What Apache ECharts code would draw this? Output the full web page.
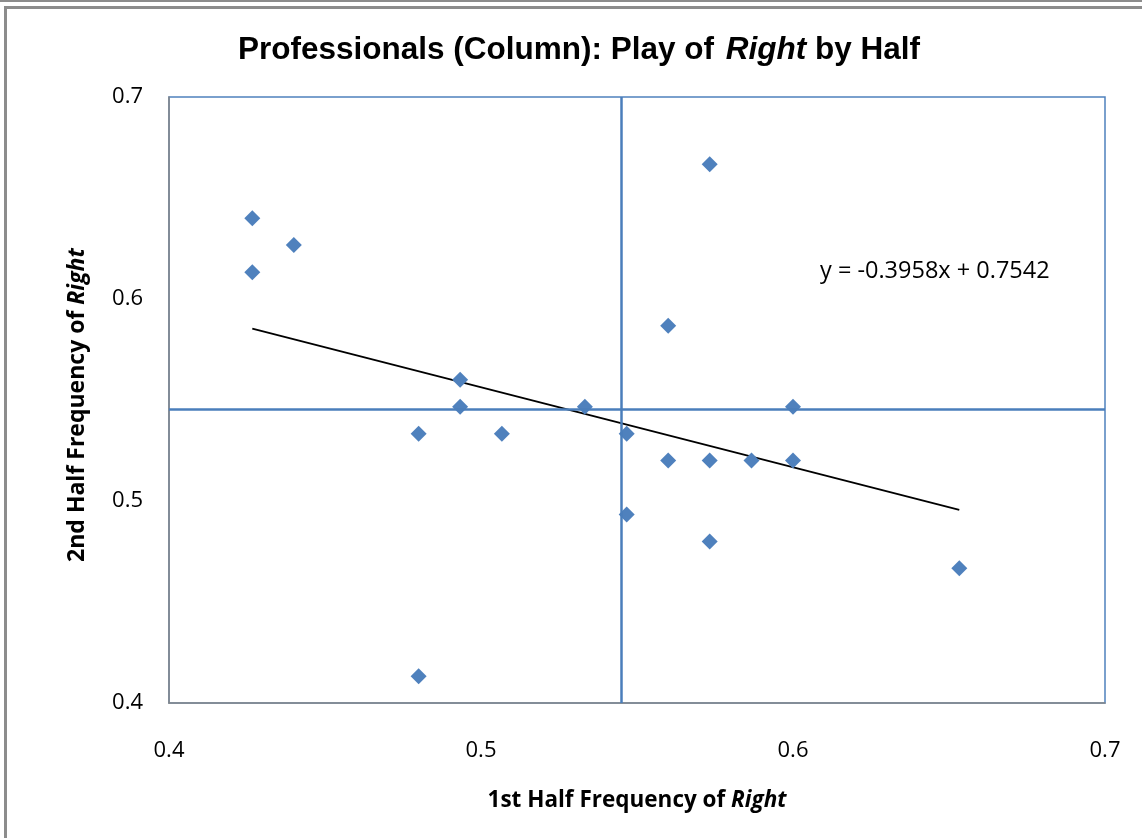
<!DOCTYPE html>
<html>
<head>
<meta charset="utf-8">
<script src="https://cdn.jsdelivr.net/npm/echarts@6/dist/echarts.min.js"></script>
<style>
html,body{margin:0;padding:0;background:#fff;}
#c{width:1142px;height:838px;}
</style>
</head>
<body>
<div id="c"></div>
<script>
// 1st half frequency of Right (x) and 2nd half frequency of Right (y)
var firstHalf  = [0.4267, 0.4267, 0.44, 0.4933, 0.4933, 0.48, 0.5067, 0.5333, 0.5467, 0.5467,
                  0.56, 0.56, 0.5733, 0.5733, 0.5733, 0.5867, 0.6, 0.6, 0.6533, 0.48];
var secondHalf = [0.64, 0.6133, 0.6267, 0.56, 0.5467, 0.5333, 0.5333, 0.5467, 0.5333, 0.4933,
                  0.5867, 0.52, 0.6667, 0.52, 0.48, 0.52, 0.5467, 0.52, 0.4667, 0.4133];
var trendSlope = -0.3958;
var trendIntercept = 0.7542;
var refX = 0.545;   // vertical reference line
var refY = 0.5455;  // horizontal reference line
var axisTicks = [0.4, 0.5, 0.6, 0.7];

var points = firstHalf.map(function (x, i) { return [x, secondHalf[i]]; });
var xMin = Math.min.apply(null, firstHalf), xMax = Math.max.apply(null, firstHalf);
var trend = [[xMin, trendSlope * xMin + trendIntercept], [xMax, trendSlope * xMax + trendIntercept]];

var blue = '#4A7EBB';
var chart = echarts.init(document.getElementById('c'), null, {renderer: 'canvas'});
chart.setOption({
  animation: false,
  backgroundColor: '#fff',
  title: {
    text: '{b|Professionals (Column): Play of }{i|Right}{b| by Half}',
    left: 233, top: 29,
    textStyle: {
      rich: {
        b: {fontFamily: 'Liberation Sans', fontWeight: 'bold', fontSize: 31.5, color: '#000'},
        i: {fontFamily: 'Liberation Sans', fontWeight: 'bold', fontStyle: 'italic', fontSize: 31.5, color: '#000', padding: [0, 0, 0, 3]}
      }
    }
  },
  grid: {left: 169, top: 97, right: 37, bottom: 135, show: true, borderColor: '#4F81BD', borderWidth: 1.5, containLabel: false},
  xAxis: {
    type: 'value', min: axisTicks[0], max: axisTicks[axisTicks.length - 1], interval: 0.1,
    axisLine: {show: true, lineStyle: {color: '#868686', width: 1.5}},
    axisTick: {show: false},
    splitLine: {show: false},
    axisLabel: {margin: 37, fontFamily: 'Open Sans', fontSize: 22, color: '#000',
      formatter: function (v) { return v.toFixed(1); }},
    name: '{a|1st Half Frequency of }{b|Right}',
    nameLocation: 'middle', nameGap: 86,
    nameTextStyle: {rich: {
      a: {fontFamily: 'Open Sans', fontWeight: 'bold', fontSize: 22.5, color: '#000'},
      b: {fontFamily: 'Open Sans', fontWeight: 'bold', fontStyle: 'italic', fontSize: 22.5, color: '#000'}
    }}
  },
  yAxis: {
    type: 'value', min: axisTicks[0], max: axisTicks[axisTicks.length - 1], interval: 0.1,
    axisLine: {show: true, lineStyle: {color: '#868686', width: 1.5}},
    axisTick: {show: false},
    splitLine: {show: false},
    axisLabel: {margin: 26, fontFamily: 'Open Sans', fontSize: 22, color: '#000',
      formatter: function (v) { return v.toFixed(1); }},
    name: '{a|2nd Half Frequency of }{b|Right}',
    nameLocation: 'middle', nameGap: 80, nameRotate: 90,
    nameTextStyle: {padding: [0, 10, 0, 0], rich: {
      a: {fontFamily: 'Open Sans', fontWeight: 'bold', fontSize: 23, color: '#000'},
      b: {fontFamily: 'Open Sans', fontWeight: 'bold', fontStyle: 'italic', fontSize: 23, color: '#000'}
    }}
  },
  series: [
    {
      type: 'line', data: trend, symbol: 'none', silent: true, z: 3,
      lineStyle: {color: '#000', width: 1.8}
    },
    {
      type: 'scatter', data: points, symbol: 'diamond', symbolSize: 16, z: 4,
      itemStyle: {color: '#4F81BD', opacity: 1},
      markLine: {
        silent: true, symbol: 'none', precision: 4, label: {show: false},
        lineStyle: {color: blue, width: 2.5, type: 'solid', opacity: 1},
        data: [{xAxis: refX}, {yAxis: refY}]
      }
    }
  ],
  graphic: [
    {type: 'rect', shape: {x: 0, y: 0, width: 1142, height: 2}, style: {fill: '#8c8c8c'}, silent: true},
    {type: 'rect', shape: {x: 4, y: 6, width: 1138, height: 3}, style: {fill: '#8c8c8c'}, silent: true},
    {type: 'rect', shape: {x: 4, y: 6, width: 3, height: 832}, style: {fill: '#8c8c8c'}, silent: true},
    {type: 'text', left: 820, top: 259, silent: true,
      style: {text: 'y = -0.3958x + 0.7542', fontFamily: 'Open Sans', fontSize: 23.5, fill: '#000'}}
  ]
});
</script>
</body>
</html>
